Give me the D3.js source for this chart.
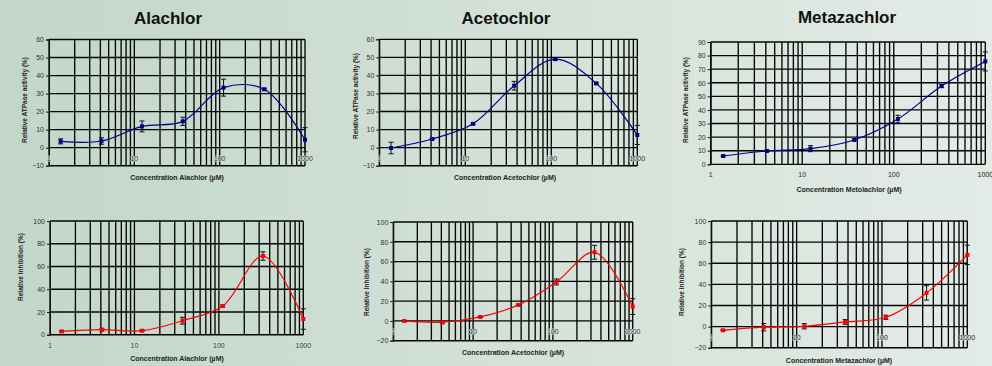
<!DOCTYPE html>
<html>
<head>
<meta charset="utf-8">
<script src="https://cdn.jsdelivr.net/npm/d3@7"></script>
<style>
  html, body { margin: 0; padding: 0; }
  body { width: 992px; height: 366px; overflow: hidden; font-family: Arial, "Liberation Sans", sans-serif; }
</style>
</head>
<body>
<div id="chart"></div>
<script>
/* concentrations (uM), 3-fold dilution series */
const conc = [1.37, 4.12, 12.3, 37, 111, 333, 1000];
const xTicks = [1, 10, 100, 1000];

/* relative ATPase activity (%) */
const alachlorAct = [3.5, 3.7, 11.8, 14.6, 33.3, 32.4, 4.4];
const alachlorActErr = [1.4, 1.8, 3.0, 2.3, 4.7, 0.5, 6.7];
const acetochlorAct = [-0.2, 4.8, 13.2, 34.3, 49.0, 35.6, 7.0];
const acetochlorActErr = [3.2, 0.4, 0.4, 2.4, 0.6, 0.5, 5.3];
const metolachlorAct = [6.1, 9.8, 11.5, 17.9, 33.3, 57.6, 75.7];
const metolachlorActErr = [0.5, 0.5, 2.2, 0.6, 2.8, 1.2, 7.0];

/* relative inhibition (%) */
const alachlorInh = [2.9, 4.4, 3.5, 12.3, 25.2, 69.2, 13.8];
const alachlorInhErr = [0.8, 1.2, 0.8, 3.0, 1.0, 3.7, 9.0];
const acetochlorInh = [0.0, -1.3, 4.0, 16.2, 39.4, 69.4, 14.5];
const acetochlorInhErr = [0.5, 1.5, 0.5, 0.8, 3.0, 7.0, 8.0];
const metazachlorInh = [-3.5, -0.6, 0.3, 4.4, 8.8, 31.9, 67.9];
const metazachlorInhErr = [0.5, 3.5, 2.5, 2.2, 2.0, 6.8, 9.2];

const W = 992, H = 366;

const svg = d3.select('#chart').append('svg')
  .attr('width', W)
  .attr('height', H);

const grad = svg.append('defs').append('linearGradient')
  .attr('id', 'bg')
  .attr('x1', '0%').attr('x2', '100%').attr('y1', '0%').attr('y2', '0%');
grad.append('stop').attr('offset', '0%').attr('stop-color', '#c2d6c9');
grad.append('stop').attr('offset', '100%').attr('stop-color', '#e3ebe6');

svg.append('rect').attr('width', W).attr('height', H).attr('fill', 'url(#bg)');

/* panel layout */
const panels = [
  {title: 'Alachlor', tx: 168, ty: 24, x0: 49, x1: 305, y0: 39.5, y1: 165.7, yDom: [-10, 60], yStep: 10,
   ylab: 'Relative ATPase activity (%)', ylx: 25, yly: 100, xlab: 'Concentration Alachlor (\u00b5M)', xlx: 177, xly: 180,
   vals: alachlorAct, errs: alachlorActErr, color: '#00008b'},
  {title: 'Acetochlor', tx: 506, ty: 24, x0: 379.3, x1: 637.3, y0: 39.3, y1: 165.7, yDom: [-10, 60], yStep: 10,
   ylab: 'Relative ATPase activity (%)', ylx: 356, yly: 96, xlab: 'Concentration Acetochlor (\u00b5M)', xlx: 505, xly: 180,
   vals: acetochlorAct, errs: acetochlorActErr, color: '#00008b'},
  {title: 'Metazachlor', tx: 847, ty: 23, x0: 710.7, x1: 985.3, y0: 42, y1: 164.3, yDom: [0, 90], yStep: 10,
   ylab: 'Relative ATPase activity (%)', ylx: 686, yly: 100, xlab: 'Concentration Metolachlor (\u00b5M)', xlx: 849, xly: 192,
   vals: metolachlorAct, errs: metolachlorActErr, color: '#00008b'},
  {title: null, x0: 50, x1: 303.3, y0: 221, y1: 334.7, yDom: [0, 100], yStep: 20,
   ylab: 'Relative Inhibition (%)', ylx: 21, yly: 267, xlab: 'Concentration Alachlor (\u00b5M)', xlx: 177, xly: 361,
   vals: alachlorInh, errs: alachlorInhErr, color: '#ff0000'},
  {title: null, x0: 393.3, x1: 632.7, y0: 222, y1: 340.7, yDom: [-20, 100], yStep: 20,
   ylab: 'Relative Inhibition (%)', ylx: 367, yly: 282, xlab: 'Concentration Acetochlor (\u00b5M)', xlx: 513, xly: 355,
   vals: acetochlorInh, errs: acetochlorInhErr, color: '#ff0000'},
  {title: null, x0: 711.3, x1: 967.3, y0: 221, y1: 347.7, yDom: [-20, 100], yStep: 20,
   ylab: 'Relative Inhibition (%)', ylx: 682, yly: 282, xlab: 'Concentration Metazachlor (\u00b5M)', xlx: 839, xly: 363,
   vals: metazachlorInh, errs: metazachlorInhErr, color: '#ff0000'}
];

// every log minor position 1..1000
const minor = [];
for (let d = 1; d < 1000; d *= 10) {
  for (let k = 1; k < 10; k++) minor.push(d * k);
}
minor.push(1000);

panels.forEach(p => {
  const x = d3.scaleLog().domain([1, 1000]).range([p.x0, p.x1]);
  const y = d3.scaleLinear().domain(p.yDom).range([p.y1, p.y0]);
  const yTicks = d3.range(p.yDom[0], p.yDom[1] + 0.001, p.yStep);
  const g = svg.append('g');

  if (p.title) {
    g.append('text')
      .attr('x', p.tx).attr('y', p.ty)
      .attr('text-anchor', 'middle')
      .attr('font-size', 17).attr('font-weight', 'bold')
      .attr('fill', '#111')
      .text(p.title);
  }

  // grid
  g.selectAll('.vg').data(minor).enter().append('line')
    .attr('x1', d => x(d)).attr('x2', d => x(d))
    .attr('y1', p.y0).attr('y2', p.y1)
    .attr('stroke', '#050505').attr('stroke-width', 1.35);

  g.selectAll('.hg').data(yTicks).enter().append('line')
    .attr('x1', p.x0).attr('x2', p.x1)
    .attr('y1', d => y(d)).attr('y2', d => y(d))
    .attr('stroke', '#050505').attr('stroke-width', 1.35);

  // y axis
  const yAxis = g.append('g')
    .attr('transform', `translate(${p.x0},0)`)
    .call(d3.axisLeft(y).tickValues(yTicks).tickSize(3).tickPadding(2));
  yAxis.select('.domain').attr('stroke', '#111');
  yAxis.selectAll('line').attr('stroke', '#111');
  yAxis.selectAll('text').attr('font-size', 7).attr('fill', '#333')
    .attr('font-family', 'Arial, "Liberation Sans", sans-serif');

  // x tick labels along the zero line
  g.selectAll('.xl').data(xTicks).enter().append('text')
    .attr('x', d => x(d))
    .attr('y', y(0) + 13)
    .attr('text-anchor', 'middle')
    .attr('font-size', 7).attr('fill', '#333')
    .attr('stroke', '#d4e1d8').attr('stroke-width', 1.2)
    .attr('paint-order', 'stroke')
    .text(d => d);

  // axis titles
  g.append('text')
    .attr('transform', `translate(${p.ylx},${p.yly}) rotate(-90)`)
    .attr('text-anchor', 'middle')
    .attr('dy', '0.35em')
    .attr('font-size', 6.5).attr('font-weight', 'bold').attr('fill', '#222')
    .text(p.ylab);

  g.append('text')
    .attr('x', p.xlx).attr('y', p.xly)
    .attr('text-anchor', 'middle')
    .attr('font-size', 7).attr('font-weight', 'bold').attr('fill', '#222')
    .text(p.xlab);

  const pts = conc.map((c, i) => ({c: c, v: p.vals[i], e: p.errs[i]}));

  // smoothed line
  const line = d3.line()
    .x(d => x(d.c))
    .y(d => y(d.v))
    .curve(d3.curveCatmullRom.alpha(0.5));

  g.append('path')
    .datum(pts)
    .attr('d', line)
    .attr('fill', 'none')
    .attr('stroke', p.color)
    .attr('stroke-width', 1.2);

  // error bars
  const eb = g.selectAll('.eb').data(pts).enter().append('g');
  eb.append('line')
    .attr('x1', d => x(d.c)).attr('x2', d => x(d.c))
    .attr('y1', d => y(d.v - d.e)).attr('y2', d => y(d.v + d.e))
    .attr('stroke', '#111').attr('stroke-width', 1);
  eb.append('line')
    .attr('x1', d => x(d.c) - 2.5).attr('x2', d => x(d.c) + 2.5)
    .attr('y1', d => y(d.v + d.e)).attr('y2', d => y(d.v + d.e))
    .attr('stroke', '#111').attr('stroke-width', 1);
  eb.append('line')
    .attr('x1', d => x(d.c) - 2.5).attr('x2', d => x(d.c) + 2.5)
    .attr('y1', d => y(d.v - d.e)).attr('y2', d => y(d.v - d.e))
    .attr('stroke', '#111').attr('stroke-width', 1);

  // markers
  g.selectAll('.mk').data(pts).enter().append('rect')
    .attr('x', d => x(d.c) - 2)
    .attr('y', d => y(d.v) - 2)
    .attr('width', 4).attr('height', 4)
    .attr('fill', p.color);
});
</script>
</body>
</html>
